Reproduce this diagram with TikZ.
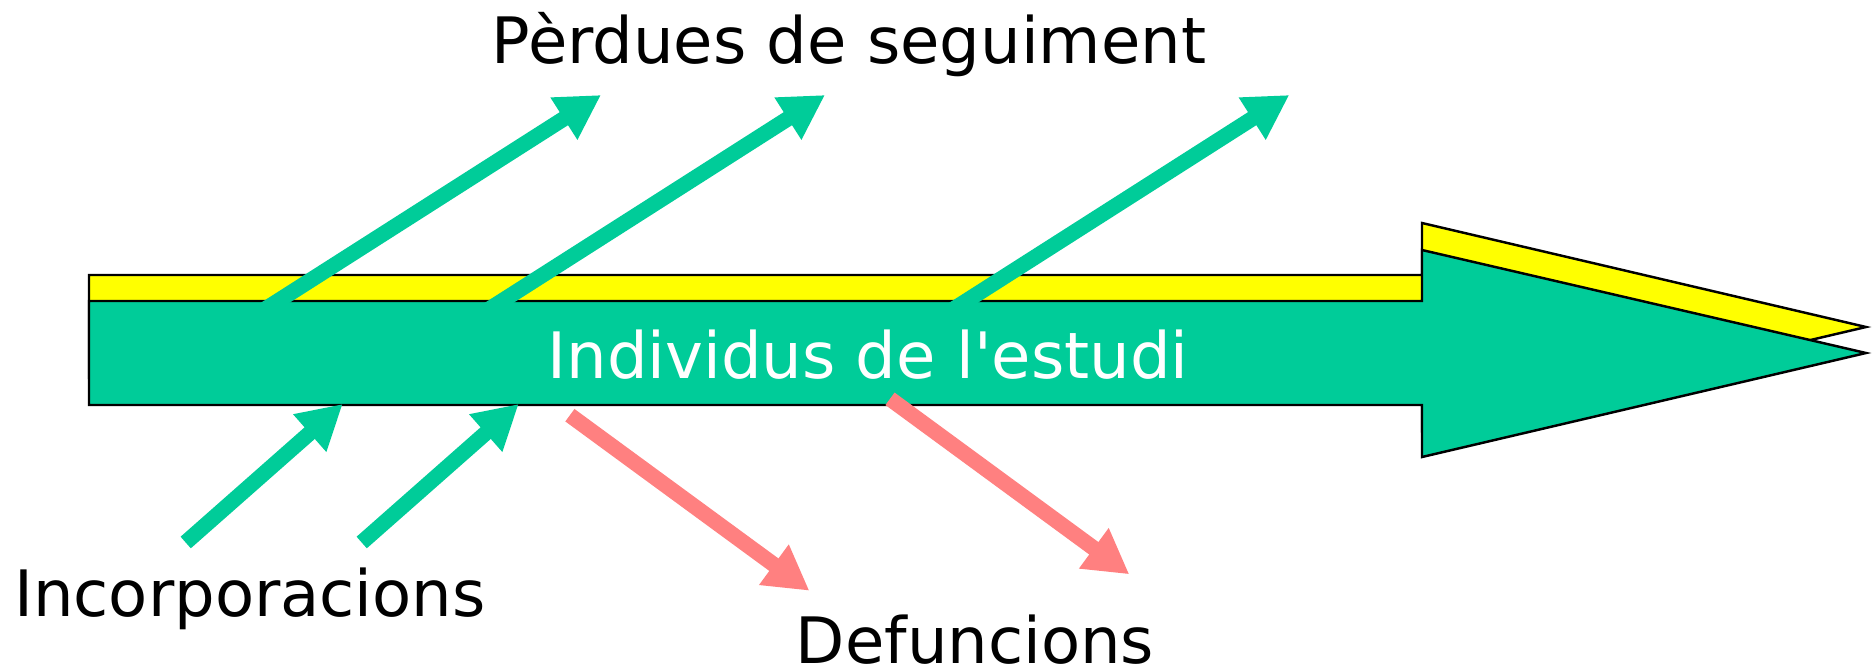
\documentclass[tikz,border=0pt]{standalone}
\usepackage{fontspec}
\setmainfont{DejaVu Sans}[Ligatures=TeXOff]
\usetikzlibrary{arrows.meta}
\definecolor{studygreen}{RGB}{0,204,153}
\definecolor{lossred}{RGB}{255,128,128}
\definecolor{bandyellow}{RGB}{255,255,0}
\tikzset{
  flow/.style={->, line width=4.4pt},
  txt/.style={anchor=base, inner sep=0pt, font=\fontsize{18.2pt}{22pt}\selectfont}
}

\begin{document}
\begin{tikzpicture}[x=0.01cm, y=-0.01cm, >={Triangle[length=4.4mm, width=4.7mm]}]
\useasboundingbox (0,0) rectangle (1872,669);

\draw[line width=0.7pt, fill=bandyellow] (89,275) -- (1422,275) -- (1422,223) -- (1866,327) -- (1422,431) -- (1422,378) -- (89,378) -- cycle;
\draw[line width=0.7pt, fill=studygreen] (89,301) -- (1422,301) -- (1422,250) -- (1866,353) -- (1422,457) -- (1422,405) -- (89,405) -- cycle;

\node[txt, white] (study) at (868,378) {Individus de l'estudi};
\node[txt] (loss) at (849,63) {Pèrdues de seguiment};
\node[txt] (entry) at (250,616.7) {Incorporacions};
\node[txt] (death) at (975,663) {Defuncions};

\coordinate (in1) at (185.7,542.5);
\coordinate (in1tip) at (342.7,404);
\coordinate (in2) at (361.7,542.5);
\coordinate (in2tip) at (518.7,404);

\coordinate (out1) at (252.7,317.1);
\coordinate (out1tip) at (601,95);
\coordinate (out2) at (476.7,317.1);
\coordinate (out2tip) at (825,95);
\coordinate (out3) at (941,317.1);
\coordinate (out3tip) at (1289.3,95);

\coordinate (dead1) at (569.9,415.2);
\coordinate (dead1tip) at (809.4,590.7);
\coordinate (dead2) at (890,398.8);
\coordinate (dead2tip) at (1129.3,574.3);

\draw[flow, studygreen] (in1) -- (in1tip);
\draw[flow, studygreen] (in2) -- (in2tip);

\draw[flow, studygreen] (out1) -- (out1tip);
\draw[flow, studygreen] (out2) -- (out2tip);
\draw[flow, studygreen] (out3) -- (out3tip);

\draw[flow, lossred] (dead1) -- (dead1tip);
\draw[flow, lossred] (dead2) -- (dead2tip);

\end{tikzpicture}
\end{document}
